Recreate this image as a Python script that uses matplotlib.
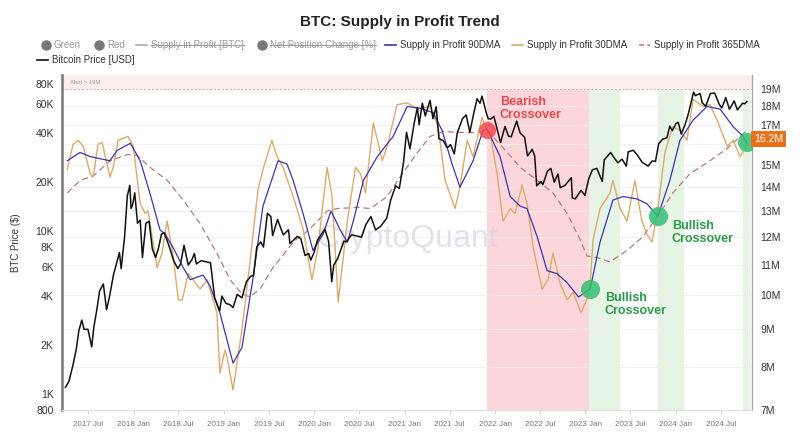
import pandas as pd
import matplotlib.pyplot as plt
import matplotlib.dates as mdates
import matplotlib.transforms as mtransforms
from matplotlib.ticker import FixedLocator, FixedFormatter, NullLocator
from matplotlib.lines import Line2D

plt.rcParams['font.family'] = ['Liberation Sans', 'DejaVu Sans']

# Bitcoin price (USD)
price_dates = [
    "2017-04-01", "2017-04-15", "2017-05-01", "2017-05-15", "2017-05-25", "2017-06-06", "2017-06-15", "2017-07-01",
    "2017-07-16", "2017-07-25", "2017-08-05", "2017-08-17", "2017-09-01", "2017-09-14", "2017-09-25", "2017-10-12",
    "2017-10-20", "2017-11-05", "2017-11-12", "2017-11-26", "2017-12-07", "2017-12-17", "2017-12-22", "2017-12-28",
    "2018-01-06", "2018-01-17", "2018-01-28", "2018-02-06", "2018-02-20", "2018-03-05", "2018-03-18", "2018-03-31",
    "2018-04-12", "2018-04-24", "2018-05-05", "2018-05-20", "2018-06-01", "2018-06-12", "2018-06-29", "2018-07-10",
    "2018-07-24", "2018-08-10", "2018-08-25", "2018-09-04", "2018-09-12", "2018-10-01", "2018-10-20", "2018-11-08",
    "2018-11-20", "2018-11-25", "2018-12-15", "2018-12-24",
    "2019-01-10", "2019-01-25", "2019-02-07", "2019-02-24", "2019-03-15", "2019-04-02", "2019-04-20", "2019-05-01",
    "2019-05-14", "2019-05-30", "2019-06-10", "2019-06-26", "2019-07-10", "2019-07-17", "2019-08-06", "2019-08-29",
    "2019-09-19", "2019-09-25", "2019-10-25", "2019-11-08", "2019-11-25", "2019-12-10", "2019-12-18", "2019-12-30",
    "2020-01-14", "2020-02-13", "2020-02-28", "2020-03-12", "2020-03-20", "2020-04-05", "2020-04-30", "2020-05-10",
    "2020-05-31", "2020-06-15", "2020-07-10", "2020-07-28", "2020-08-17", "2020-09-05", "2020-09-25", "2020-10-20",
    "2020-11-05", "2020-11-25", "2020-12-10", "2020-12-27",
    "2021-01-08", "2021-01-22", "2021-02-08", "2021-02-21", "2021-02-28", "2021-03-13", "2021-03-25", "2021-04-13",
    "2021-04-25", "2021-05-08", "2021-05-19", "2021-06-05", "2021-06-22", "2021-07-05", "2021-07-20", "2021-08-01",
    "2021-08-22", "2021-09-06", "2021-09-21", "2021-10-05", "2021-10-20", "2021-11-01", "2021-11-09", "2021-11-26",
    "2021-12-04", "2021-12-15", "2021-12-27",
    "2022-01-10", "2022-01-23", "2022-02-10", "2022-02-24", "2022-03-07", "2022-03-29", "2022-04-12", "2022-04-30",
    "2022-05-12", "2022-05-31", "2022-06-10", "2022-06-18", "2022-07-05", "2022-07-13", "2022-07-31", "2022-08-14",
    "2022-08-28", "2022-09-12", "2022-09-21", "2022-10-10", "2022-11-05", "2022-11-09", "2022-11-21", "2022-12-14",
    "2022-12-30",
    "2023-01-14", "2023-01-29", "2023-02-16", "2023-03-10", "2023-03-18", "2023-04-13", "2023-04-26", "2023-05-12",
    "2023-05-29", "2023-06-15", "2023-06-23", "2023-07-13", "2023-07-31", "2023-08-17", "2023-09-11", "2023-09-28",
    "2023-10-11", "2023-10-24", "2023-11-09", "2023-11-26", "2023-12-08", "2023-12-18",
    "2024-01-02", "2024-01-11", "2024-01-23", "2024-02-08", "2024-02-20", "2024-03-05", "2024-03-13", "2024-03-20",
    "2024-04-08", "2024-04-17", "2024-05-01", "2024-05-20", "2024-06-06", "2024-06-24", "2024-07-05", "2024-07-21",
    "2024-08-05", "2024-08-24", "2024-09-06", "2024-09-27", "2024-10-06", "2024-10-14",
]
price_usd = [
    1100, 1200, 1500, 1900, 2450, 2850, 2500, 2500,
    1950, 2600, 3250, 4300, 4750, 3300, 3900, 5400,
    6000, 7400, 5900, 9300, 16500, 19100, 13800, 14500,
    17200, 11200, 11700, 6900, 11200, 11500, 7800, 6900,
    7900, 9600, 9800, 8500, 7500, 6600, 5900, 6300,
    8200, 6200, 6700, 7300, 6300, 6600, 6500, 6400,
    4500, 3900, 3250, 4000,
    3600, 3550, 3400, 4100, 3900, 4900, 5300, 5350,
    8000, 8600, 8000, 12900, 12300, 9400, 11800, 9500,
    10200, 8400, 9300, 9000, 7100, 7300, 6650, 7300,
    8800, 10300, 8700, 4900, 6200, 6800, 8700, 8600,
    9500, 9400, 9200, 11000, 12300, 10200, 10700, 12000,
    15500, 19000, 18300, 26500,
    40500, 32000, 46000, 57500, 45000, 61000, 51000, 63500,
    49000, 58000, 37000, 36000, 32500, 34000, 29800, 40000,
    49000, 51700, 40500, 51500, 65000, 61000, 67500, 53500,
    49000, 48800, 50700,
    41800, 35000, 44000, 38300, 38000, 47400, 40100, 37700,
    29000, 31800, 29000, 19000, 20200, 19300, 23300, 24300,
    20000, 22400, 18500, 19100, 21300, 16000, 15800, 17800,
    16600,
    20900, 23800, 24300, 20200, 27400, 30400, 28400, 26300,
    27700, 25100, 30700, 31400, 29200, 26600, 25100, 27000,
    26800, 34500, 36700, 37400, 44200, 41400,
    45800, 46600, 39500, 45300, 52000, 63800, 71500, 67900,
    70000, 61300, 58500, 70000, 70500, 60300, 57000, 66000,
    56000, 63000, 55500, 61000, 60500, 62500,
]

# Supply in Profit 90DMA (million BTC)
ma90_dates = [
    "2017-04-08", "2017-05-30", "2017-07-10", "2017-09-28", "2017-10-27", "2017-12-19", "2018-01-28", "2018-03-08",
    "2018-04-18", "2018-05-09", "2018-06-10", "2018-07-21", "2018-08-18", "2018-10-09", "2018-11-06", "2018-12-16",
    "2019-02-07", "2019-03-15", "2019-04-28", "2019-06-08", "2019-08-08", "2019-09-13", "2019-10-08", "2019-11-17",
    "2019-12-27", "2020-02-06", "2020-03-09", "2020-04-15", "2020-05-14", "2020-06-07", "2020-07-18", "2020-09-12",
    "2020-11-15", "2021-01-11", "2021-03-04", "2021-04-26", "2021-06-01", "2021-07-11", "2021-08-12", "2021-10-04",
    "2021-11-13", "2021-11-29", "2022-01-21", "2022-03-03", "2022-04-12", "2022-05-10", "2022-06-20", "2022-07-30",
    "2022-09-08", "2022-10-19", "2022-12-04", "2023-01-20", "2023-03-01", "2023-04-22", "2023-06-02", "2023-07-28",
    "2023-09-06", "2023-10-21", "2023-12-08", "2024-01-18", "2024-03-11", "2024-05-06", "2024-06-28", "2024-08-20",
    "2024-09-29", "2024-10-14",
]
ma90 = [
    15.2, 15.6, 15.4, 15.2, 15.7, 16.05, 15.2, 13.75,
    12.26, 12.1, 11.6, 10.9, 10.5, 10.65, 10.3, 9.47,
    8.1, 8.5, 10.5, 13.2, 15.2, 15.05, 14.3, 12.9,
    11.5, 12.1, 13.0, 12.26, 11.8, 12.6, 14.3, 15.4,
    16.4, 18.0, 17.9, 17.65, 16.7, 15.05, 14.0, 15.2,
    16.7, 16.8, 15.4, 13.6, 13.2, 13.1, 12.0, 10.8,
    10.7, 10.4, 9.95, 10.2, 11.8, 13.45, 13.6, 13.5,
    13.3, 12.8, 14.3, 16.2, 17.25, 18.0, 17.85, 16.9,
    16.4, 16.05,
]

# Supply in Profit 30DMA (million BTC)
ma30_dates = [
    "2017-04-08", "2017-05-02", "2017-05-22", "2017-06-12", "2017-07-10", "2017-07-22", "2017-08-11", "2017-08-27",
    "2017-09-28", "2017-10-11", "2017-10-31", "2017-12-10", "2017-12-31", "2018-01-28", "2018-02-17", "2018-03-01",
    "2018-04-06", "2018-04-26", "2018-05-17", "2018-06-10", "2018-07-01", "2018-07-17", "2018-08-10", "2018-08-30",
    "2018-09-27", "2018-10-25", "2018-12-04", "2018-12-16", "2019-01-06", "2019-01-14", "2019-02-07", "2019-03-15",
    "2019-04-16", "2019-05-19", "2019-06-08", "2019-07-14", "2019-08-04", "2019-08-28", "2019-10-08", "2019-11-17",
    "2019-12-23", "2020-01-16", "2020-02-22", "2020-03-13", "2020-04-07", "2020-05-14", "2020-06-16", "2020-07-06",
    "2020-07-26", "2020-08-27", "2020-10-02", "2020-10-22", "2020-12-01", "2021-01-11", "2021-02-21", "2021-04-14",
    "2021-05-16", "2021-06-13", "2021-07-23", "2021-08-12", "2021-09-10", "2021-10-04", "2021-11-09", "2021-11-29",
    "2021-12-11", "2022-01-09", "2022-02-02", "2022-03-03", "2022-03-23", "2022-04-20", "2022-05-10", "2022-06-04",
    "2022-07-10", "2022-08-03", "2022-08-23", "2022-09-20", "2022-10-19", "2022-11-12", "2022-12-14", "2023-01-08",
    "2023-01-20", "2023-02-01", "2023-03-01", "2023-04-10", "2023-04-22", "2023-05-21", "2023-06-18", "2023-07-20",
    "2023-08-17", "2023-09-06", "2023-09-27", "2023-10-21", "2023-11-18", "2023-12-20", "2024-01-18", "2024-02-15",
    "2024-03-11", "2024-04-20", "2024-05-18", "2024-06-16", "2024-07-27", "2024-08-20", "2024-09-17", "2024-10-14",
]
ma30 = [
    14.8, 16.0, 16.2, 15.9, 14.6, 14.45, 16.0, 16.1,
    14.45, 14.9, 16.2, 16.4, 15.9, 13.3, 12.9, 13.0,
    10.9, 11.4, 12.6, 11.3, 9.86, 9.86, 10.7, 10.5,
    10.2, 10.5, 9.47, 7.85, 8.44, 8.25, 7.45, 8.98,
    11.06, 13.9, 14.8, 16.2, 15.4, 14.9, 13.6, 12.3,
    10.5, 11.6, 14.9, 13.6, 9.8, 12.6, 14.9, 14.6,
    13.75, 17.1, 15.2, 15.9, 18.1, 18.2, 17.85, 18.0,
    16.9, 14.3, 13.1, 14.0, 16.2, 15.4, 17.4, 16.7,
    16.6, 14.6, 12.6, 13.1, 12.9, 14.1, 13.3, 11.6,
    10.2, 10.5, 11.4, 10.4, 9.86, 10.1, 9.47, 9.9,
    10.4, 11.9, 13.1, 13.75, 14.3, 13.1, 12.6, 14.3,
    12.6, 12.1, 11.8, 13.1, 15.6, 16.9, 16.7, 16.2,
    18.4, 18.0, 18.1, 17.25, 15.9, 16.2, 15.4, 15.9,
]

# Supply in Profit 365DMA (million BTC)
ma365_dates = [
    "2017-04-08", "2017-05-30", "2017-07-22", "2017-09-28", "2017-12-06", "2018-01-16", "2018-03-08", "2018-05-17",
    "2018-07-21", "2018-09-27", "2018-12-04", "2019-01-26", "2019-03-15", "2019-04-16", "2019-05-27", "2019-07-18",
    "2019-08-16", "2019-10-08", "2019-12-15", "2020-02-22", "2020-04-03", "2020-06-24", "2020-08-15", "2020-10-22",
    "2020-12-13", "2021-02-21", "2021-04-14", "2021-06-05", "2021-08-12", "2021-10-20", "2021-11-29", "2022-01-21",
    "2022-04-12", "2022-07-02", "2022-08-23", "2022-10-19", "2022-12-10", "2023-01-08", "2023-02-17", "2023-04-10",
    "2023-06-18", "2023-08-21", "2023-10-21", "2023-12-20", "2024-02-27", "2024-05-18", "2024-07-27", "2024-10-14",
]
ma365 = [
    13.75, 14.3, 14.5, 15.2, 15.5, 15.45, 14.9, 14.3,
    13.45, 12.5, 11.4, 10.5, 10.05, 9.95, 10.2, 10.9,
    11.2, 11.8, 12.3, 13.0, 13.1, 13.15, 13.1, 13.6,
    14.45, 15.6, 16.4, 16.65, 16.6, 16.6, 16.7, 16.0,
    14.9, 14.2, 13.75, 12.9, 11.9, 11.3, 11.25, 11.1,
    11.5, 12.0, 12.8, 13.75, 14.6, 15.2, 15.8, 16.7,
]

# crossover signals
bear_dates = ["2021-11-29"]
bear_vals = [16.75]
bull_dates = ["2023-01-20", "2023-10-21", "2024-10-16"]
bull_vals = [10.2, 12.8, 16.1]

# shaded periods
red_zone = ("2021-11-28", "2023-01-16")
green_zones = [("2023-01-16", "2023-05-20"), ("2023-10-21", "2024-02-03"), ("2024-09-28", "2024-10-26")]

price_ticks = [800, 1000, 2000, 4000, 6000, 8000, 10000, 20000, 40000, 60000, 80000]
price_labels = ["800", "1K", "2K", "4K", "6K", "8K", "10K", "20K", "40K", "60K", "80K"]
supply_ticks = list(range(7, 20))
supply_labels = [f"{v}M" if v != 16 else "" for v in supply_ticks]

W, H = 800, 432
fig = plt.figure(figsize=(W / 100, H / 100), dpi=100)
ax = fig.add_axes([62 / W, 22 / H, 690 / W, 335 / H])
ax2 = ax.twinx()
# price axis drawn on top of the supply axis
ax.set_zorder(ax2.get_zorder() + 1)
ax.patch.set_visible(False)

td = pd.to_datetime
sup = mtransforms.blended_transform_factory(ax2.transAxes, ax2.transData)

# background zones and grid live on the lower (supply) axes
ax2.axvspan(td(red_zone[0]), td(red_zone[1]), color='#fdd6dc', lw=0, zorder=0)
for a, b in green_zones:
    ax2.axvspan(td(a), td(b), color='#e5f4e4', lw=0, zorder=0)
ax2.axhspan(19e6, 25e6, color='#fdeeee', lw=0, zorder=0)
ax2.axhline(19e6, color='#d8a8a8', lw=0.7, ls=(0, (2, 2)))
ax2.text(0.012, 19.25e6, 'Alert > 19M', transform=sup, fontsize=4.2, color='#999999', va='bottom')
ax2.grid(axis='y', color='#efefef', lw=0.6)
ax2.set_axisbelow(True)

ax2.text(0.5, 0.51, 'CryptoQuant', transform=ax2.transAxes, fontsize=23, color='#d6d6e2', alpha=0.7,
         ha='center', va='center', zorder=1)

ax2.plot(td(ma365_dates), [v * 1e6 for v in ma365], color='#b97a7a', lw=0.9, ls=(0, (5, 3)), zorder=2)
ax2.plot(td(ma30_dates), [v * 1e6 for v in ma30], color='#dcaa6e', lw=1.0, zorder=2)
ax2.plot(td(ma90_dates), [v * 1e6 for v in ma90], color='#3f35a8', lw=0.9, zorder=2)

ax2.set_yscale('log')
ax2.set_ylim(7e6, 19.85e6)
ax2.yaxis.set_major_locator(FixedLocator([v * 1e6 for v in supply_ticks]))
ax2.yaxis.set_major_formatter(FixedFormatter(supply_labels))
ax2.yaxis.set_minor_locator(NullLocator())
ax2.tick_params(axis='y', length=0, labelsize=7.5, labelcolor='#333333', pad=6)

# price
ax.plot(td(price_dates), price_usd, color='#111111', lw=1.1, zorder=3)
ax.set_yscale('log')
ax.set_ylim(800, 90900)
ax.yaxis.set_major_locator(FixedLocator(price_ticks))
ax.yaxis.set_major_formatter(FixedFormatter(price_labels))
ax.yaxis.set_minor_locator(NullLocator())
ax.tick_params(axis='y', length=0, labelsize=7.5, labelcolor='#333333', pad=6)
ax.set_ylabel('BTC Price ($)', fontsize=7, color='#333333', labelpad=10)

ax.set_xlim(td("2017-03-18"), td("2024-11-04"))
ax.xaxis.set_major_locator(mdates.MonthLocator(bymonth=[1, 7]))
ax.xaxis.set_major_formatter(mdates.DateFormatter('%Y %b'))
ax.tick_params(axis='x', length=3, width=0.6, color='#cccccc', labelsize=5.8, labelcolor='#777777', pad=5)

# crossover markers and notes, placed in supply units but drawn over the price line
ax.scatter(td(bear_dates), [v * 1e6 for v in bear_vals], s=150, color='#f04a4e', alpha=0.85, lw=0, zorder=5,
           transform=ax2.transData)
ax.scatter(td(bull_dates), [v * 1e6 for v in bull_vals], s=190, color='#33bf73', alpha=0.85, lw=0, zorder=5,
           transform=ax2.transData)
ax.text(td("2022-01-20"), 18.6e6, 'Bearish\nCrossover', color='#e8484c', fontsize=9, fontweight='bold',
        va='top', ha='left', linespacing=1.1, zorder=6, transform=ax2.transData)
ax.text(td("2023-03-20"), 10.1e6, 'Bullish\nCrossover', color='#2b9a46', fontsize=9, fontweight='bold',
        va='top', ha='left', linespacing=1.1, zorder=6, transform=ax2.transData)
ax.text(td("2023-12-16"), 12.65e6, 'Bullish\nCrossover', color='#2b9a46', fontsize=9, fontweight='bold',
        va='top', ha='left', linespacing=1.1, zorder=6, transform=ax2.transData)

# current value label
ax.text(1.003, 16.25e6, '16.2M', transform=sup, fontsize=7.5, color='white', va='center', ha='left',
        zorder=7, clip_on=False, bbox=dict(boxstyle='square,pad=0.3', fc='#e8721c', ec='none'))

for a in (ax, ax2):
    a.spines['top'].set_visible(False)
ax.spines['right'].set_visible(False)
ax2.spines['left'].set_visible(False)
ax2.spines['bottom'].set_visible(False)
ax.spines['left'].set_color('#777777')
ax.spines['left'].set_linewidth(1.8)
ax2.spines['right'].set_color('#aaaaaa')
ax2.spines['right'].set_linewidth(1.0)
ax.spines['bottom'].set_color('#dddddd')
ax.spines['bottom'].set_linewidth(0.8)

fig.text(0.5, 1 - 22 / H, 'BTC: Supply in Profit Trend', ha='center', va='center', fontsize=11,
         fontweight='bold', color='#222222')

# legend, drawn by hand
strike = []
def legend_item(x, y, label, kind, color, active=True, struck=False):
    fy = 1 - y / H
    if kind == 'dot':
        fig.add_artist(Line2D([x / W], [fy], marker='o', ms=6.5, color=color, lw=0, transform=fig.transFigure))
        tx = x + 8
    else:
        ls = (0, (3, 2)) if kind == 'dash' else '-'
        fig.add_artist(Line2D([x / W, (x + 11) / W], [fy, fy], color=color, lw=1.2, ls=ls,
                              transform=fig.transFigure))
        tx = x + 15
    t = fig.text(tx / W, fy, label, fontsize=7, va='center', ha='left',
                 color='#333333' if active else '#9a9a9a')
    if struck:
        strike.append(t)

legend_item(46, 45, 'Green', 'dot', '#777777', active=False)
legend_item(99, 45, 'Red', 'dot', '#777777', active=False)
legend_item(136, 45, 'Supply in Profit [BTC]', 'line', '#aaaaaa', active=False, struck=True)
legend_item(262, 45, 'Net Position Change [%]', 'dot', '#777777', active=False, struck=True)
legend_item(385, 45, 'Supply in Profit 90DMA', 'line', '#3f35a8')
legend_item(512, 45, 'Supply in Profit 30DMA', 'line', '#dcaa6e')
legend_item(639, 45, 'Supply in Profit 365DMA', 'dash', '#c07f86')
legend_item(37, 60, 'Bitcoin Price [USD]', 'line', '#111111')

fig.canvas.draw()
for t in strike:
    bb = t.get_window_extent()
    ym = (bb.y0 + bb.y1) / 2 / fig.bbox.height
    fig.add_artist(Line2D([bb.x0 / fig.bbox.width, bb.x1 / fig.bbox.width], [ym, ym], color='#9a9a9a', lw=0.7,
                          transform=fig.transFigure))

fig.savefig('out.png', dpi=100, facecolor='white')
